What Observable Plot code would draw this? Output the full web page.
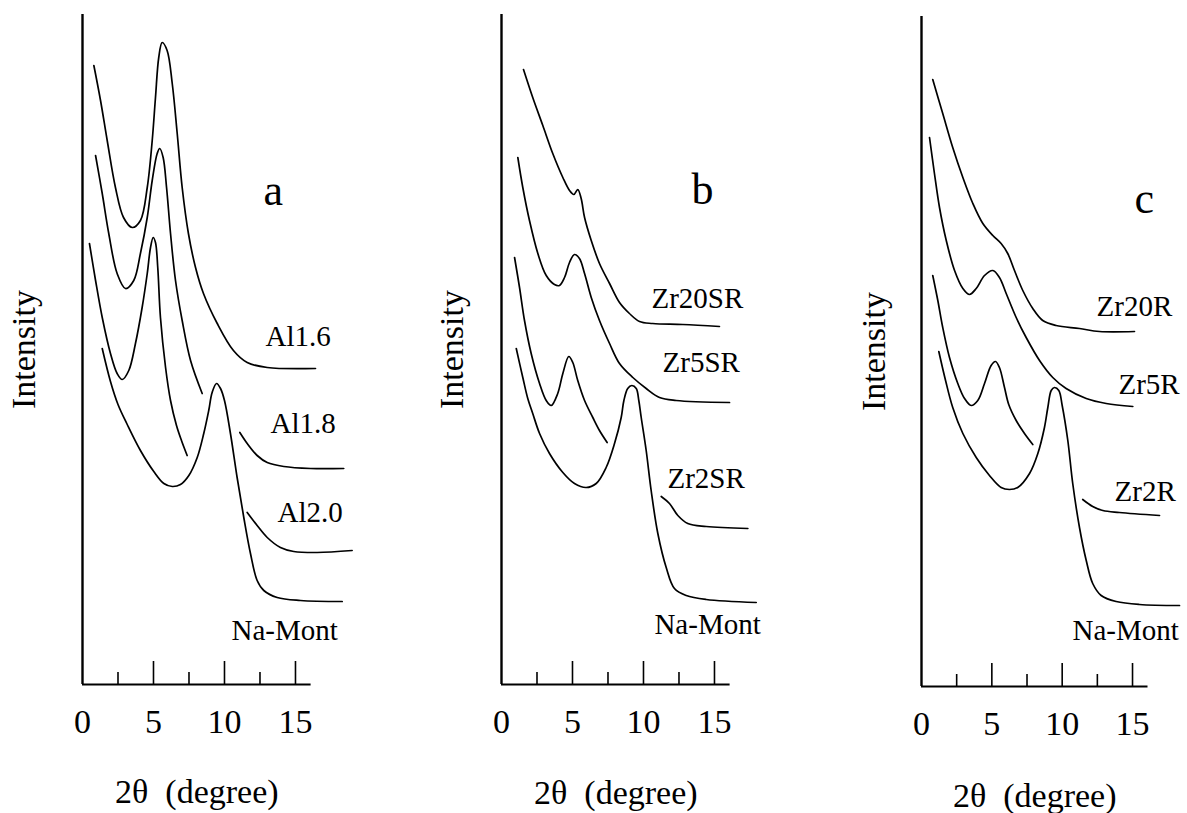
<!DOCTYPE html>
<html>
<head>
<meta charset="utf-8">
<script src="https://cdn.jsdelivr.net/npm/d3@7"></script>
<script src="https://cdn.jsdelivr.net/npm/@observablehq/plot@0.6"></script>
<style>
  html, body { margin: 0; padding: 0; background: white; }
  #wrap { position: relative; width: 1187px; height: 813px; overflow: hidden; background: white; }
  #wrap > svg { position: absolute; top: 0; }
  #wrap text { font-family: "Liberation Serif", "Times New Roman", Times, serif !important; }
</style>
</head>
<body>
<div id="wrap"></div>
<script>
// ---------- data (2θ in degrees, intensity in arbitrary units) ----------
const TICK_LABELS = [0, 5, 10, 15];
const MAJOR_TICKS = [5, 10, 15];
const MINOR_TICKS = [2.5, 7.5, 12.5];
const X_END = 16.1;
const Y_TOP = 670;

// panel a
const al16 = [[0.80,619],[1.27,584],[1.74,544],[2.32,497],[2.89,467],[3.50,457],[4.08,464],[4.56,497],[4.91,544],[5.14,587],[5.37,627],[5.61,642],[5.96,634],[6.32,601],[6.67,551],[7.02,497],[7.46,451],[7.96,417],[8.52,391],[9.49,361],[10.63,334],[11.60,322],[13.01,317],[16.41,316]];
const al18a = [[0.92,529],[1.39,491],[1.85,451],[2.44,411],[3.03,396],[3.61,404],[4.08,431],[4.56,467],[4.91,504],[5.26,531],[5.44,536],[5.68,527],[5.92,497],[6.20,451],[6.55,404],[7.02,364],[7.61,324],[8.43,291]];
const al18b = [[11.08,252],[11.60,241],[12.30,229],[13.01,222],[14.18,218],[16.06,216],[18.40,216]];
const al20a = [[0.49,441],[0.92,404],[1.39,367],[1.97,331],[2.44,311],[2.80,305],[3.26,314],[3.73,341],[4.20,377],[4.56,411],[4.79,437],[4.98,447],[5.14,442],[5.30,417],[5.49,367],[5.85,317],[6.20,284],[6.62,259],[6.97,244],[7.37,229]];
const al20b = [[11.60,172],[12.30,159],[13.01,147],[13.94,137],[14.88,133],[16.53,132],[18.99,134]];
const naMontA = [[1.39,336],[1.97,303],[2.50,280],[3.15,260],[4.08,234],[5.02,213],[5.73,201],[6.32,198],[6.90,200],[7.49,209],[8.08,227],[8.54,251],[8.89,274],[9.13,292],[9.44,301],[9.72,296],[10.00,284],[10.42,251],[10.89,207],[11.36,167],[11.83,131],[12.30,104],[12.77,94],[13.71,87],[15.35,84],[18.29,83]];
const labelsA = [["Al1.6",12.89,339],["Al1.8",13.24,252],["Al2.0",13.73,163],["Na-Mont",10.49,45]];
const letterA = ["a",12.75,480];

// panel b
const zr20sr = [[1.55,615],[2.20,587],[2.91,559],[3.61,531],[4.32,507],[4.79,494],[5.09,490],[5.37,495],[5.61,486],[5.85,467],[6.32,444],[6.90,421],[7.61,401],[8.31,382],[9.01,371],[9.72,363],[10.65,361],[12.77,360],[15.35,358]];
const zr5sr = [[1.15,527],[1.50,497],[1.97,464],[2.56,431],[3.15,409],[3.73,400],[4.08,399],[4.44,407],[4.79,422],[5.14,430],[5.49,426],[5.85,411],[6.32,387],[6.90,364],[7.61,341],[8.31,321],[9.25,307],[10.19,296],[11.13,287],[12.30,284],[16.06,282]];
const zr2srA = [[0.92,427],[1.27,397],[1.62,364],[2.09,331],[2.68,301],[3.15,284],[3.50,279],[3.96,291],[4.32,311],[4.74,328],[5.02,322],[5.37,304],[5.85,284],[6.43,267],[6.90,254],[7.44,242]];
const zr2srB = [[11.25,188],[11.83,181],[12.42,169],[13.12,161],[14.42,158],[17.35,156]];
const naMontB = [[1.04,336],[1.50,307],[1.85,286],[2.20,271],[2.68,251],[3.38,231],[4.32,212],[5.14,201],[5.96,197],[6.67,201],[7.37,217],[7.96,241],[8.43,267],[8.62,284],[8.89,296],[9.18,299],[9.49,296],[9.67,284],[9.84,267],[10.19,234],[10.54,194],[11.01,151],[11.60,117],[12.18,96],[13.01,89],[14.42,85],[17.94,82]];
const labelsB = [["Zr20SR",10.56,377],["Zr5SR",11.34,313],["Zr2SR",11.69,197],["Na-Mont",10.77,51]];
const letterB = ["b",13.38,481];

// panel c
const zr20r = [[0.80,607],[1.51,573],[2.22,539],[2.94,509],[3.65,483],[4.36,463],[5.07,451],[5.66,443],[6.13,433],[6.61,416],[7.20,396],[7.91,378],[8.62,366],[9.57,361],[11.23,358],[12.65,355],[15.14,355]];
const zr5r = [[0.57,549],[0.92,513],[1.28,479],[1.76,446],[2.35,416],[2.94,398],[3.41,392],[3.89,398],[4.48,411],[5.07,416],[5.54,409],[6.02,393],[6.73,369],[7.44,349],[8.39,326],[9.33,309],[10.28,298],[11.71,288],[13.13,283],[15.02,280]];
const zr2rA = [[0.80,411],[1.16,386],[1.51,359],[1.99,329],[2.58,303],[3.06,288],[3.53,281],[4.00,286],[4.48,303],[4.95,321],[5.26,325],[5.54,319],[5.90,299],[6.20,282],[6.73,266],[7.32,253],[7.91,242]];
const zr2rB = [[11.46,187],[12.17,180],[12.89,176],[14.07,174],[16.92,171]];
const naMontC = [[1.23,335],[1.71,306],[2.22,279],[2.94,253],[3.89,229],[4.83,211],[5.66,199],[6.25,197],[6.84,199],[7.68,213],[8.27,233],[8.74,259],[8.98,279],[9.22,296],[9.45,299],[9.76,296],[10.00,281],[10.40,246],[10.75,203],[11.23,159],[11.71,126],[12.17,103],[12.77,91],[13.84,85],[15.49,82],[18.34,81]];
const labelsC = [["Zr20R",12.44,371],["Zr5R",14.00,293],["Zr2R",13.72,186],["Na-Mont",10.73,47]];
const letterC = ["c",15.14,474];

const X_TITLE = "2θ  (degree)";
const Y_TITLE = "Intensity";

// ---------- drawing ----------
const SERIF = "Liberation Serif, Times New Roman, Times, serif";

function panel(o) {
  const rows = o.segments.flatMap(([id, pts]) => pts.map(([x, y]) => ({id, x, y})));
  const labels = o.labels.map(([text, x, y]) => ({text, x, y}));
  const letter = [{text: o.letter[0], x: o.letter[1], y: o.letter[2]}];
  const svg = Plot.plot({
    width: o.width,
    height: 813,
    marginLeft: o.marginLeft,
    marginRight: o.marginRight,
    marginTop: o.marginTop,
    marginBottom: o.marginBottom,
    x: {domain: [0, X_END]},
    y: {domain: [0, Y_TOP], axis: null},
    style: {color: "black", background: "white", overflow: "visible"},
    marks: [
      Plot.ruleX([0], {y1: 0, y2: Y_TOP, strokeWidth: 2.4, stroke: "black"}),
      Plot.ruleY([0], {x1: 0, x2: X_END, strokeWidth: 2, stroke: "black"}),
      Plot.ruleX(MINOR_TICKS, {x: d => d, y1: 0, y2: 12, strokeWidth: 1.6, stroke: "black"}),
      Plot.ruleX(MAJOR_TICKS, {x: d => d, y1: 0, y2: 23, strokeWidth: 1.6, stroke: "black"}),
      Plot.line(rows, {x: "x", y: "y", z: "id", curve: "catmull-rom", stroke: "black", strokeWidth: 1.7}),
      Plot.text(labels, {x: "x", y: "y", text: "text", textAnchor: "start", lineAnchor: "bottom", fontSize: 29, fontFamily: SERIF, fill: "black"}),
      Plot.text(letter, {x: "x", y: "y", text: "text", textAnchor: "start", lineAnchor: "bottom", fontSize: 44, fontFamily: SERIF, fill: "black"}),
      Plot.axisX({ticks: TICK_LABELS, tickSize: 0, tickPadding: o.tickPadding, fontSize: 34, fontFamily: SERIF, label: null, tickFormat: d => String(d)}),
      Plot.text([X_TITLE], {frameAnchor: "bottom", textAnchor: "middle", lineAnchor: "bottom", dy: o.titleDy, fontSize: 34, fontFamily: SERIF, fill: "black"}),
      Plot.text([Y_TITLE], {frameAnchor: "left", textAnchor: "middle", lineAnchor: "middle", rotate: -90, dx: o.yTitleDx, fontSize: 34, fontFamily: SERIF, fill: "black"})
    ]
  });
  svg.setAttribute("font-family", SERIF);
  svg.style.left = o.left + "px";
  return svg;
}

const wrap = document.getElementById("wrap");
wrap.appendChild(panel({
  left: 0, width: 395, marginLeft: 82, marginRight: 84.4, marginTop: 14, marginBottom: 129,
  tickPadding: 24, titleDy: 118, yTitleDx: -58,
  segments: [["al16", al16], ["al18a", al18a], ["al18b", al18b], ["al20a", al20a], ["al20b", al20b], ["na", naMontA]],
  labels: labelsA, letter: letterA
}));
wrap.appendChild(panel({
  left: 395, width: 405, marginLeft: 106, marginRight: 70.4, marginTop: 14, marginBottom: 129,
  tickPadding: 24, titleDy: 119, yTitleDx: -49,
  segments: [["zr20", zr20sr], ["zr5", zr5sr], ["zr2a", zr2srA], ["zr2b", zr2srB], ["na", naMontB]],
  labels: labelsB, letter: letterB
}));
wrap.appendChild(panel({
  left: 800, width: 387, marginLeft: 121, marginRight: 39.5, marginTop: 16, marginBottom: 127,
  tickPadding: 24, titleDy: 120, yTitleDx: -47,
  segments: [["zr20", zr20r], ["zr5", zr5r], ["zr2a", zr2rA], ["zr2b", zr2rB], ["na", naMontC]],
  labels: labelsC, letter: letterC
}));
</script>
</body>
</html>
